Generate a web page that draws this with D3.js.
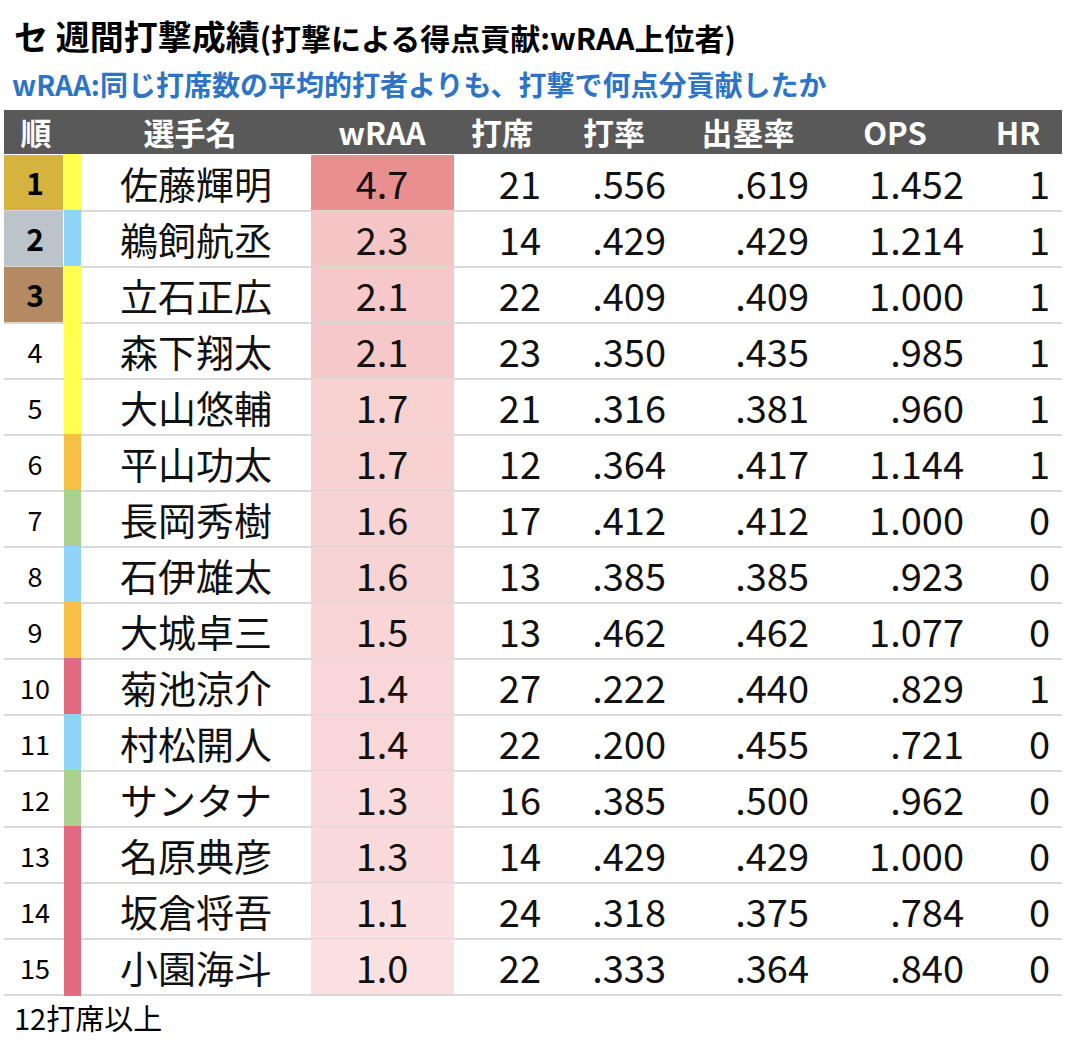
<!DOCTYPE html>
<html><head><meta charset="utf-8">
<script src="https://cdn.jsdelivr.net/npm/d3@7"></script>
<style>body{margin:0;background:#fff}</style>
</head><body>
<svg id="chart" width="1066" height="1040"></svg>
<script>
const names = ['佐藤輝明','鵜飼航丞','立石正広','森下翔太','大山悠輔','平山功太','長岡秀樹','石伊雄太','大城卓三','菊池涼介','村松開人','サンタナ','名原典彦','坂倉将吾','小園海斗'];
const teams = ['T','D','T','T','T','G','S','D','G','C','D','S','C','C','C'];
const wraa = [4.7,2.3,2.1,2.1,1.7,1.7,1.6,1.6,1.5,1.4,1.4,1.3,1.3,1.1,1.0];
const pa = [21,14,22,23,21,12,17,13,13,27,22,16,14,24,22];
const avg = ['.556','.429','.409','.350','.316','.364','.412','.385','.462','.222','.200','.385','.429','.318','.333'];
const obp = ['.619','.429','.409','.435','.381','.417','.412','.385','.462','.440','.455','.500','.429','.375','.364'];
const ops = ['1.452','1.214','1.000','.985','.960','1.144','1.000','.923','1.077','.829','.721','.962','1.000','.784','.840'];
const hr = [1,1,1,1,1,1,0,0,0,1,0,0,0,0,0];
const headers = ['順','選手名','wRAA','打席','打率','出塁率','OPS','HR'];

const teamColor = {T:'#ffff4f', D:'#8ed4f7', G:'#f6c044', S:'#a9d08e', C:'#e06b80'};
const medal = ['#d6b23e','#bcc3c9','#b48a62'];
const font = '"Noto Sans CJK JP", sans-serif';
const svg = d3.select('#chart');

svg.append('text').attr('x',14).attr('y',50).attr('font-family',font).attr('font-weight',700)
  .attr('font-size',34).attr('fill','#000').text('セ 週間打撃成績').append('tspan').attr('font-size',30).text('(打撃による得点貢献:wRAA上位者)');
svg.append('text').attr('x',12).attr('y',96).attr('font-family',font).attr('font-weight',700)
  .attr('font-size',28).attr('fill','#2e74c4').text('wRAA:同じ打席数の平均的打者よりも、打撃で何点分貢献したか');

const tableTop = 155, rowH = 56;
const y = d3.scaleBand().domain(d3.range(names.length)).range([tableTop, tableTop + rowH*names.length]);
const color = d3.scaleLinear().domain([1.0, 4.7]).range(['#fbe0e1','#ea8f8f']);

// header
svg.append('rect').attr('x',4).attr('y',110).attr('width',1058).attr('height',44).attr('fill','#595959');
const hx = [36,190,382,502,614,748,895,1018];
headers.forEach((h,i)=>{
  svg.append('text').attr('x',hx[i]).attr('y',145).attr('text-anchor','middle').attr('font-family',font)
    .attr('font-weight',700).attr('font-size',31).attr('fill','#fff').text(h);
});

const rows = svg.append('g').selectAll('g').data(names).join('g')
  .attr('transform',(d,i)=>`translate(0,${y(i)})`);
rows.append('line').attr('x1',4).attr('x2',1062).attr('y1',rowH).attr('y2',rowH).attr('stroke','#d9d9d9').attr('stroke-width',2);
rows.filter((d,i)=>i<3).append('rect').attr('x',4).attr('y',0).attr('width',59).attr('height',rowH-1).attr('fill',(d,i)=>medal[i]);
rows.append('rect').attr('x',64).attr('y',-1).attr('width',17).attr('height',rowH+2).attr('fill',(d,i)=>teamColor[teams[i]]);
rows.append('rect').attr('x',311).attr('y',0).attr('width',143).attr('height',rowH-1).attr('fill',(d,i)=>color(wraa[i]));
rows.append('text').attr('x',35).attr('y',40).attr('text-anchor','middle').attr('font-family',font)
  .attr('font-weight',(d,i)=>i<3?700:400).attr('font-size',(d,i)=>i<3?30:27).text((d,i)=>i+1);

const cells = [
  {x:196, a:'middle', v:i=>names[i]},
  {x:382, a:'middle', v:i=>wraa[i].toFixed(1)},
  {x:541, a:'end', v:i=>pa[i]},
  {x:666, a:'end', v:i=>avg[i]},
  {x:809, a:'end', v:i=>obp[i]},
  {x:964, a:'end', v:i=>ops[i]},
  {x:1050, a:'end', v:i=>hr[i]}
];
cells.forEach(c=>{
  rows.append('text').attr('x',c.x).attr('y',44).attr('text-anchor',c.a).attr('font-family',font)
    .attr('font-size',38).attr('fill','#111').text((d,i)=>c.v(i));
});

svg.append('text').attr('x',14).attr('y',1030).attr('font-family',font).attr('font-size',29).text('12打席以上');
</script>
</body></html>
